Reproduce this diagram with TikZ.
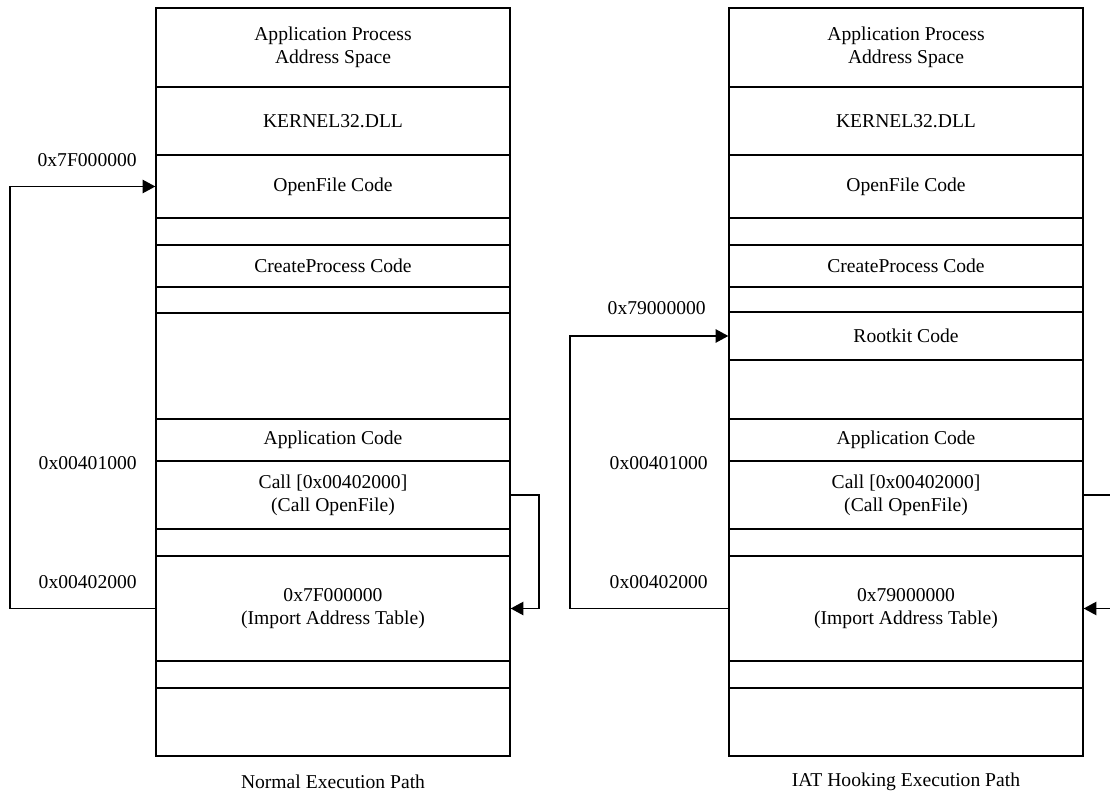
\documentclass[tikz,border=0pt]{standalone}
\usepackage{fontspec}
\setmainfont{Liberation Serif}
\usetikzlibrary{arrows.meta}
\begin{document}
\begin{tikzpicture}[x=0.75pt,y=-0.75pt,
  every node/.style={font=\fontsize{14.7pt}{17.25pt}\selectfont},
  cell/.style={draw,line width=1pt,rectangle,inner sep=0pt,minimum width=265.5pt,align=center},
  rowh/.style={minimum height=#1*0.75pt},
  addr/.style={anchor=east,inner sep=0pt},
  caption/.style={inner sep=0pt},
  link/.style={line width=1pt,-{Triangle[length=9.5pt,width=10pt]}}]
\useasboundingbox (0,0) rectangle (1110,812);
\begin{scope}
\clip (0,0) rectangle (1110,812);

% ---------- normal execution path ----------
\node[cell,rowh=79]  (L1)  at (333,47.5)  {Application Process\\Address Space};
\node[cell,rowh=68]  (L2)  at (333,121)   {KERNEL32.DLL};
\node[cell,rowh=63]  (L3)  at (333,186.5) {OpenFile Code};
\node[cell,rowh=27]  (L4)  at (333,231.5) {};
\node[cell,rowh=42]  (L5)  at (333,266)   {CreateProcess Code};
\node[cell,rowh=26]  (L6)  at (333,300)   {};
\node[cell,rowh=106] (L7)  at (333,366)   {};
\node[cell,rowh=42]  (L8)  at (333,440)   {Application Code};
\node[cell,rowh=68]  (L9)  at (333,495)   {Call [0x00402000]\\(Call OpenFile)};
\node[cell,rowh=27]  (L10) at (333,542.5) {};
\node[cell,rowh=105] (L11) at (333,608.5) {0x7F000000\\(Import Address Table)};
\node[cell,rowh=27]  (L12) at (333,674.5) {};
\node[cell,rowh=68]  (L13) at (333,722)   {};

\node[addr] (La1) at (137,160) {0x7F000000};
\node[addr] (La2) at (137,463) {0x00401000};
\node[addr] (La3) at (137,582) {0x00402000};
\node[caption] (Lcap) at (333,782) {Normal Execution Path};

\coordinate (loopLL) at (10,0);
\coordinate (loopLR) at (539,0);
\draw[link] (L11.west) -- (L11.west -| loopLL) |- (L3.west);
\draw[link] (L9.east) -- (L9.east -| loopLR) |- (L11.east);

% ---------- IAT hooking execution path ----------
\node[cell,rowh=79]  (R1)  at (906,47.5)  {Application Process\\Address Space};
\node[cell,rowh=68]  (R2)  at (906,121)   {KERNEL32.DLL};
\node[cell,rowh=63]  (R3)  at (906,186.5) {OpenFile Code};
\node[cell,rowh=27]  (R4)  at (906,231.5) {};
\node[cell,rowh=42]  (R5)  at (906,266)   {CreateProcess Code};
\node[cell,rowh=25]  (R6)  at (906,299.5) {};
\node[cell,rowh=48]  (R7)  at (906,336)   {Rootkit Code};
\node[cell,rowh=59]  (R8)  at (906,389.5) {};
\node[cell,rowh=42]  (R9)  at (906,440)   {Application Code};
\node[cell,rowh=68]  (R10) at (906,495)   {Call [0x00402000]\\(Call OpenFile)};
\node[cell,rowh=27]  (R11) at (906,542.5) {};
\node[cell,rowh=105] (R12) at (906,608.5) {0x79000000\\(Import Address Table)};
\node[cell,rowh=27]  (R13) at (906,674.5) {};
\node[cell,rowh=68]  (R14) at (906,722)   {};

\node[addr] (Ra1) at (706,308) {0x79000000};
\node[addr] (Ra2) at (708,463) {0x00401000};
\node[addr] (Ra3) at (708,582) {0x00402000};
\node[caption] (Rcap) at (906,782) {IAT Hooking Execution Path};

\coordinate (loopRL) at (570,0);
\coordinate (loopRR) at (1112,0);
\draw[link] (R12.west) -- (R12.west -| loopRL) |- (R7.west);
\draw[link] (R10.east) -- (R10.east -| loopRR) |- (R12.east);
\end{scope}
\end{tikzpicture}
\end{document}
